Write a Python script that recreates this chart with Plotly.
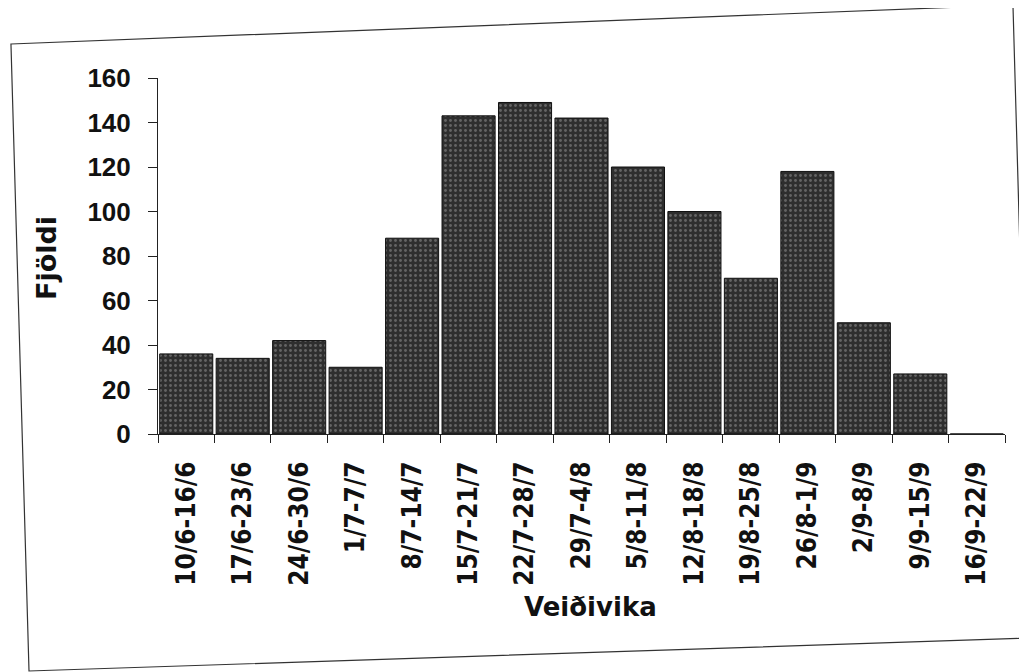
import plotly.graph_objects as go

categories = ["10/6-16/6", "17/6-23/6", "24/6-30/6", "1/7-7/7", "8/7-14/7", "15/7-21/7",
              "22/7-28/7", "29/7-4/8", "5/8-11/8", "12/8-18/8", "19/8-25/8", "26/8-1/9",
              "2/9-8/9", "9/9-15/9", "16/9-22/9"]
fjoldi = [36, 34, 42, 30, 88, 143, 149, 142, 120, 100, 70, 118, 50, 27, 0]
y_ticks = [0, 20, 40, 60, 80, 100, 120, 140, 160]

W, H = 1027, 672
OFF = 8  # page body margin
# target on-screen plot area: left 158, right 1005, top 78, bottom 434
L, T = 158 - OFF, 78 - OFF
R = W - (1005 - OFF)
B = H - (434 - OFF)
pw, ph = W - L - R, H - T - B

def px(x):
    return (x - OFF - L) / pw

def py(y):
    return (H - B - (y - OFF)) / ph

frame = [(11, 44), (1013, 5), (1031, 638), (29, 671)]
path = "M " + " L ".join(f"{px(x):.4f},{py(y):.4f}" for x, y in frame) + " Z"

fig = go.Figure(go.Bar(
    x=categories, y=fjoldi,
    marker=dict(color="#2e2e2e", line=dict(color="#111", width=1),
                pattern=dict(shape=".", fgcolor="#9a9a9a", bgcolor="#2e2e2e", size=5, solidity=0.25)),
))

lab_font = "DejaVu Sans Condensed, DejaVu Sans, Liberation Sans, Arial"
fig.update_layout(
    width=W, height=H,
    margin=dict(l=L, r=R, t=T, b=B, autoexpand=False),
    paper_bgcolor="white", plot_bgcolor="white",
    bargap=0.06, showlegend=False,
    shapes=[dict(type="path", path=path, xref="paper", yref="paper",
                 line=dict(color="#333", width=1.2), layer="below")],
    xaxis=dict(type="category", range=[-0.5, 14.5], showline=True, linecolor="#222", linewidth=1,
               ticks="outside", tickson="boundaries", ticklen=8, tickcolor="#222",
               tickangle=-90, showgrid=False, automargin=False, ticklabelstandoff=16,
               tickfont=dict(family=lab_font, size=26, color="#111", weight="bold")),
    yaxis=dict(range=[0, 160], tickvals=y_ticks, showline=True, linecolor="#222", linewidth=1,
               ticks="outside", ticklen=9, tickcolor="#222", showgrid=False, zeroline=False,
               automargin=False, ticklabelstandoff=12,
               tickfont=dict(family="Liberation Sans, Arial", size=26, color="#111", weight="bold")),
    annotations=[
        dict(text="Veiðivika", x=px(590), y=py(607), xref="paper", yref="paper",
             showarrow=False, xanchor="center", yanchor="middle",
             font=dict(family="DejaVu Sans, Liberation Sans, Arial", size=26, color="#111", weight="bold")),
        dict(text="Fjöldi", x=px(46), y=py(258), xref="paper", yref="paper",
             showarrow=False, xanchor="center", yanchor="middle", textangle=-90,
             font=dict(family="DejaVu Sans, Liberation Sans, Arial", size=27, color="#111", weight="bold")),
    ],
)
fig.write_html("out.html")
